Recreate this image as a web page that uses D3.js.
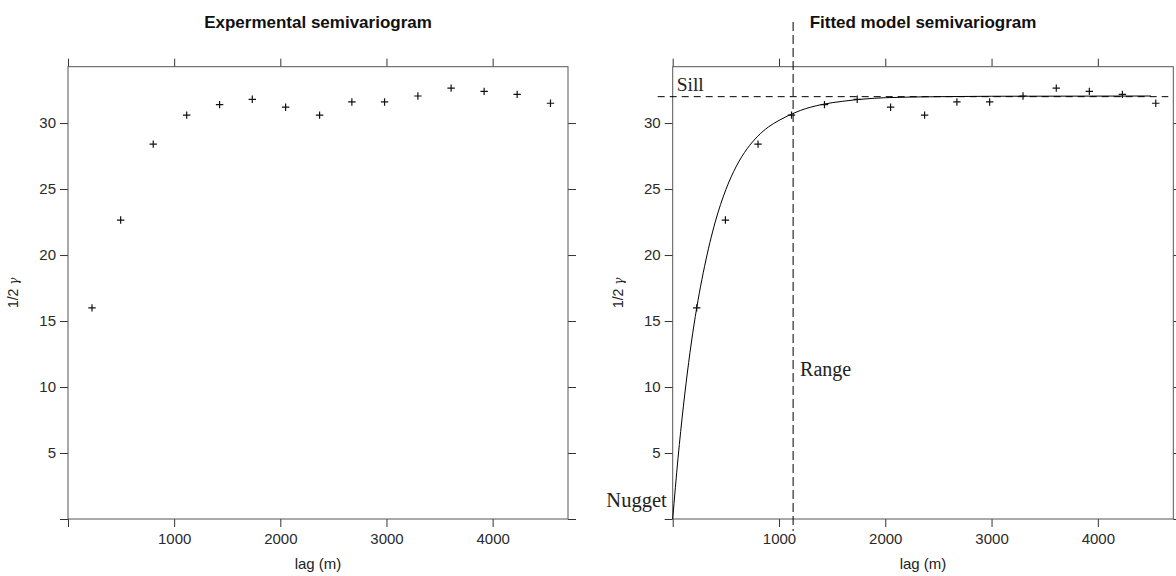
<!DOCTYPE html>
<html>
<head>
<meta charset="utf-8">
<script src="https://cdn.jsdelivr.net/npm/d3@7"></script>
<style>
  html, body { margin: 0; padding: 0; background: #fff; }
  svg { display: block; }
  .tick text { font-family: "Liberation Sans", Arial, sans-serif; font-size: 15px; fill: #2a2a2a; }
  .tick line { stroke: #333; }
</style>
</head>
<body>
<svg id="chart" width="1176" height="576"></svg>
<script>
// ---- data ----
const lag = [226, 496, 803, 1118, 1428, 1736, 2050, 2370, 2674, 2982, 3296, 3609, 3920, 4231, 4545];
const gamma = [16.0, 22.65, 28.4, 30.6, 31.4, 31.8, 31.2, 30.6, 31.6, 31.6, 32.05, 32.65, 32.4, 32.17, 31.5];
// fitted model curve
const modelLag = [0, 50, 100, 150, 200, 250, 300, 400, 500, 600, 700, 800, 900, 1000, 1130, 1200, 1400, 1600, 1800, 2000, 2500, 3000, 4500];
const modelGamma = [0, 4.6, 8.5, 11.85, 14.7, 17.1, 19.15, 22.5, 24.95, 26.75, 28.05, 29.0, 29.7, 30.2, 30.72, 30.95, 31.4, 31.65, 31.82, 31.92, 32.0, 32.03, 32.05];
const sill = 32.0;
const rangeLag = 1133;
const nugget = 0;
const xTicks = [0, 1000, 2000, 3000, 4000];
const yTicks = [0, 5, 10, 15, 20, 25, 30];
const titles = ["Expermental semivariogram", "Fitted model semivariogram"];
const xLabel = "lag (m)";

// ---- layout ----
const svg = d3.select("#chart");
const pTop = 66.7, pBottom = 519;
const panels = [{x0: 68, x1: 568}, {x0: 672.7, x1: 1173.3}];
const y = d3.scaleLinear().domain([0, 34.27]).range([pBottom, pTop]);
const tickLen = 8;

panels.forEach((p, i) => {
  const x = d3.scaleLinear().domain([0, 4710]).range([p.x0, p.x1]);
  const g = svg.append("g");
  const fmt = d => d === 0 ? "" : d;

  const ax = [
    g.append("g").attr("transform", `translate(0,${pBottom})`)
      .call(d3.axisBottom(x).tickValues(xTicks).tickFormat(fmt).tickSize(tickLen).tickSizeOuter(0).tickPadding(6)),
    g.append("g").attr("transform", `translate(0,${pTop})`)
      .call(d3.axisTop(x).tickValues(xTicks).tickFormat("").tickSize(tickLen).tickSizeOuter(0)),
    g.append("g").attr("transform", `translate(${p.x0},0)`)
      .call(d3.axisLeft(y).tickValues(yTicks).tickFormat(fmt).tickSize(tickLen).tickSizeOuter(0).tickPadding(4)),
    g.append("g").attr("transform", `translate(${p.x1},0)`)
      .call(d3.axisRight(y).tickValues(yTicks).tickFormat("").tickSize(tickLen).tickSizeOuter(0))
  ];
  ax.forEach(a => a.select(".domain").remove());

  g.append("rect").attr("x", p.x0).attr("y", pTop)
    .attr("width", p.x1 - p.x0).attr("height", pBottom - pTop)
    .attr("fill", "none").attr("stroke", "#555").attr("stroke-width", 1);

  svg.append("text").attr("x", (p.x0 + p.x1) / 2).attr("y", 28)
    .attr("text-anchor", "middle")
    .style("font-family", "'Liberation Sans', Arial, sans-serif")
    .style("font-weight", "bold").style("font-size", "17px").attr("fill", "#111")
    .text(titles[i]);

  svg.append("text").attr("x", (p.x0 + p.x1) / 2).attr("y", 569)
    .attr("text-anchor", "middle")
    .style("font-family", "'Liberation Sans', Arial, sans-serif")
    .style("font-size", "15px").attr("fill", "#222")
    .text(xLabel);

  const yl = svg.append("text")
    .attr("transform", `translate(${p.x0 - 50},${(pTop + pBottom) / 2}) rotate(-90)`)
    .attr("text-anchor", "middle")
    .style("font-family", "'Liberation Sans', Arial, sans-serif")
    .style("font-size", "14px").attr("fill", "#222");
  yl.append("tspan").text("1/2 ");
  yl.append("tspan").style("font-size", "12px").style("font-family", "'DejaVu Serif', serif").style("font-style", "italic").text("γ");

  if (i === 1) {
    const line = d3.line().x((d, k) => x(modelLag[k])).y(d => y(d)).curve(d3.curveMonotoneX);
    g.append("path").datum(modelGamma).attr("d", line)
      .attr("fill", "none").attr("stroke", "#000").attr("stroke-width", 1);

    g.append("line").attr("x1", p.x0 - 15).attr("x2", p.x1 - 5)
      .attr("y1", y(sill)).attr("y2", y(sill))
      .attr("stroke", "#000").attr("stroke-width", 1).attr("stroke-dasharray", "7,5");
    g.append("line").attr("x1", x(rangeLag)).attr("x2", x(rangeLag))
      .attr("y1", 22).attr("y2", 531)
      .attr("stroke", "#000").attr("stroke-width", 1).attr("stroke-dasharray", "9,4");

    const serif = "'Liberation Serif', 'Times New Roman', serif";
    g.append("text").attr("x", p.x0 + 4).attr("y", y(sill) - 6)
      .style("font-family", serif).style("font-size", "19.5px").attr("fill", "#222").text("Sill");
    g.append("text").attr("x", x(rangeLag) + 7).attr("y", 376)
      .style("font-family", serif).style("font-size", "20px").attr("fill", "#222").text("Range");
    g.append("text").attr("x", p.x0 - 6).attr("y", y(nugget) - 12)
      .attr("text-anchor", "end")
      .style("font-family", serif).style("font-size", "20.5px").attr("fill", "#222").text("Nugget");
  }

  const pts = g.append("g");
  lag.forEach((l, k) => {
    const cx = x(l), cy = y(gamma[k]);
    pts.append("path").attr("d", `M${cx - 3.7},${cy}H${cx + 3.7}M${cx},${cy - 3.7}V${cy + 3.7}`)
      .attr("stroke", "#111").attr("stroke-width", 1.2).attr("fill", "none");
  });
});
</script>
</body>
</html>
